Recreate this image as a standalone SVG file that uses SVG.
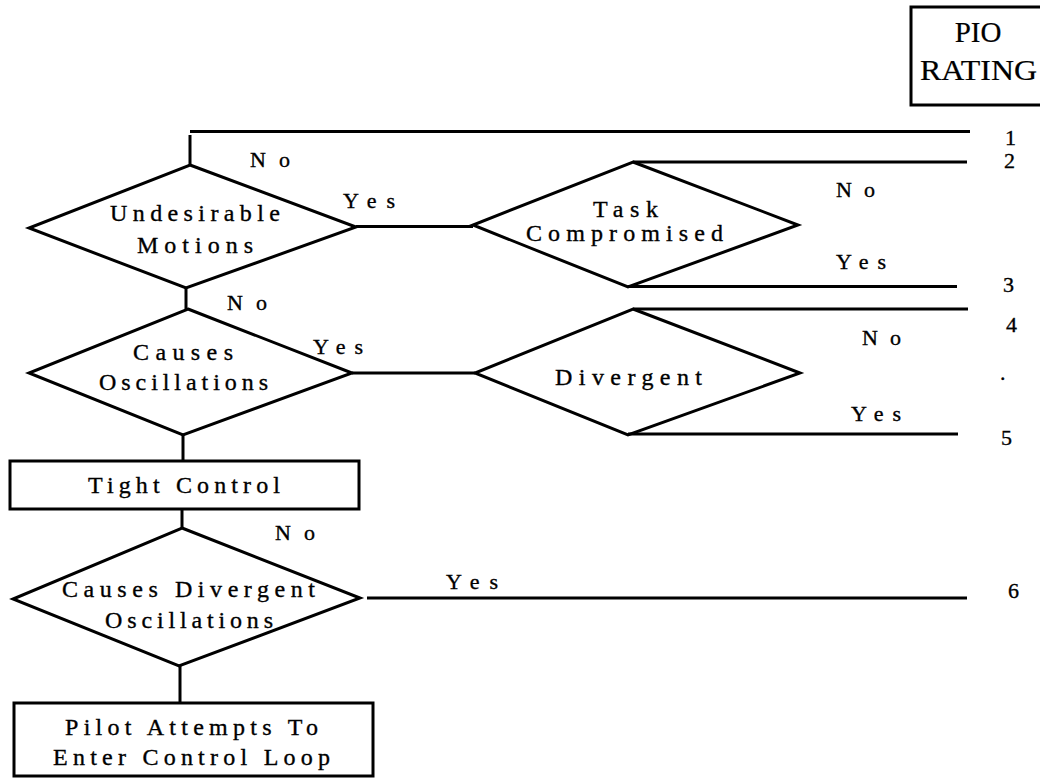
<svg xmlns="http://www.w3.org/2000/svg" width="1040" height="778" viewBox="0 0 1040 778">
<style>
.s{fill:none;stroke:#000;stroke-width:3;stroke-linejoin:miter}
.c{fill:none;stroke:#000;stroke-width:3}
text{fill:#000;stroke:#000;stroke-width:0.35}
.t{font-size:24px}
.l{font-size:22px}
.n{font-size:22px}
.h{font-size:29px;stroke-width:0.2}
</style>
<rect width="1040" height="778" fill="#fff"/>
<g font-family="'Liberation Serif','DejaVu Serif','Times New Roman',serif">
<g id="connectors">
<path class="c" d="M190 131.5H970"/>
<path class="c" d="M190 135V165"/>
<path class="c" d="M356 226.5H473"/>
<path class="c" d="M633 162H967"/>
<path class="c" d="M628 286.5H957"/>
<path class="c" d="M186 288V309"/>
<path class="c" d="M352 373H475"/>
<path class="c" d="M633 309H968"/>
<path class="c" d="M628 434H958"/>
<path class="c" d="M183 435V461"/>
<path class="c" d="M182 509V528"/>
<path class="c" d="M367 598H967"/>
<path class="c" d="M180 666V703"/>
<text class="l" x="250" y="167" textLength="40" lengthAdjust="spacing">No</text>
<text class="l" x="343" y="208" textLength="52" lengthAdjust="spacing">Yes</text>
<text class="l" x="227" y="310" textLength="40" lengthAdjust="spacing">No</text>
<text class="l" x="313" y="354" textLength="50" lengthAdjust="spacing">Yes</text>
<text class="l" x="836" y="197" textLength="39" lengthAdjust="spacing">No</text>
<text class="l" x="836" y="269" textLength="50" lengthAdjust="spacing">Yes</text>
<text class="l" x="862" y="345" textLength="39" lengthAdjust="spacing">No</text>
<text class="l" x="851" y="421" textLength="50" lengthAdjust="spacing">Yes</text>
<text class="l" x="275" y="540" textLength="40" lengthAdjust="spacing">No</text>
<text class="l" x="446" y="589" textLength="52" lengthAdjust="spacing">Yes</text>
</g>
<g id="pio-rating">
<rect class="s" x="911" y="7" width="140" height="98"/>
<text class="h" x="978" y="42" text-anchor="middle">PIO</text>
<text class="h" x="920" y="80" textLength="117" lengthAdjust="spacingAndGlyphs">RATING</text>
</g>
<g id="ratings">
<text class="n" x="1005" y="145" font-size="21">1</text>
<text class="n" x="1004" y="168">2</text>
<text class="n" x="1003" y="292">3</text>
<text class="n" x="1006" y="332">4</text>
<text class="n" x="1000" y="380">.</text>
<text class="n" x="1001" y="445">5</text>
<text class="n" x="1008" y="598">6</text>
</g>
<g id="undesirable-motions">
<polygon class="s" points="190,165 356,227 186,288 29,228"/>
<text class="t" x="110" y="221" textLength="170" lengthAdjust="spacing">Undesirable</text>
<text class="t" x="137" y="253" textLength="116" lengthAdjust="spacing">Motions</text>
</g>
<g id="task-compromised">
<polygon class="s" points="633,162 798,225 628,287 473,225"/>
<text class="t" x="593" y="217" textLength="65" lengthAdjust="spacing">Task</text>
<text class="t" x="526" y="241" textLength="197" lengthAdjust="spacing">Compromised</text>
</g>
<g id="causes-oscillations">
<polygon class="s" points="188,309 352,373 183,435 29,373"/>
<text class="t" x="133" y="360" textLength="100" lengthAdjust="spacing">Causes</text>
<text class="t" x="99" y="390" textLength="169" lengthAdjust="spacing">Oscillations</text>
</g>
<g id="divergent">
<polygon class="s" points="633,309 800,373 628,435 475,373"/>
<text class="t" x="555" y="385" textLength="147" lengthAdjust="spacing">Divergent</text>
</g>
<g id="tight-control">
<rect class="s" x="10" y="461" width="349" height="48"/>
<text class="t" x="88" y="493" textLength="192" lengthAdjust="spacing">Tight Control</text>
</g>
<g id="causes-divergent-oscillations">
<polygon class="s" points="182,528 360,598 179,666 13,599"/>
<text class="t" x="62" y="597" textLength="253" lengthAdjust="spacing">Causes Divergent</text>
<text class="t" x="105" y="628" textLength="168" lengthAdjust="spacing">Oscillations</text>
</g>
<g id="pilot-attempts">
<rect class="s" x="14" y="703" width="359" height="73"/>
<text class="t" x="65" y="735" textLength="253" lengthAdjust="spacing">Pilot Attempts To</text>
<text class="t" x="53" y="765" textLength="277" lengthAdjust="spacing">Enter Control Loop</text>
</g>
</g>
</svg>
